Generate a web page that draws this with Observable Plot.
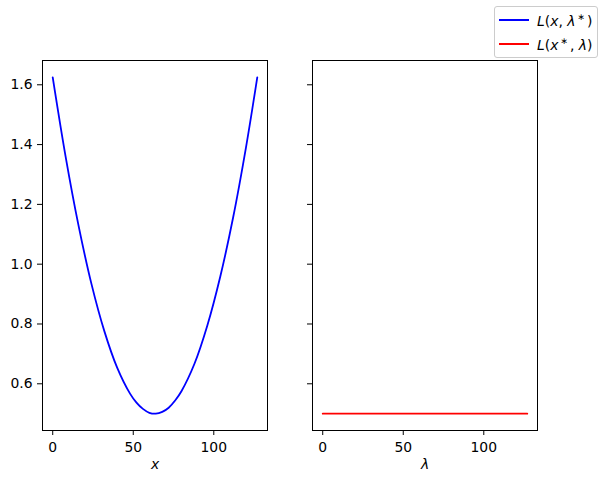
<!DOCTYPE html>
<html>
<head>
<meta charset="utf-8">
<script src="https://cdn.jsdelivr.net/npm/d3@7"></script>
<script src="https://cdn.jsdelivr.net/npm/@observablehq/plot@0.6"></script>
<style>
  html, body { margin: 0; padding: 0; background: #fff; }
  #fig { position: relative; width: 604px; height: 484px; font-family: "DejaVu Sans", sans-serif; }
  #fig svg { position: absolute; top: 0; overflow: visible; }
  #fig svg text { fill: #000; }
  #legend {
    position: absolute; left: 494px; top: 6px; width: 102px; height: 50px;
    border: 1px solid #cccccc; border-radius: 3px; background: #fff;
    font-family: "DejaVu Sans", sans-serif; font-size: 13.9px;
  }
  .lrow { position: absolute; left: 4px; height: 20px; display: flex; align-items: center; white-space: nowrap; }
  .lline { width: 30px; height: 0; border-top: 2px solid; margin-right: 8px; }
  .m { font-style: italic; }
  sup { font-size: 9px; margin: 0 2px; }
</style>
</head>
<body>
<div id="fig">
  <div id="legend">
    <div class="lrow" style="top:3px"><span class="lline" style="border-color:blue"></span><span><span class="m">L</span>(<span class="m">x</span>, <span class="m">λ</span><sup>∗</sup>)</span></div>
    <div class="lrow" style="top:27px"><span class="lline" style="border-color:red"></span><span><span class="m">L</span>(<span class="m">x</span><sup>∗</sup>, <span class="m">λ</span>)</span></div>
  </div>
</div>
<script>
// Values
const xVals = [0, 8, 16, 24, 32, 40, 48, 52, 56, 60, 64, 68, 72, 76, 80, 88, 96, 104, 112, 120, 127];
const lossX = [1.625, 1.36, 1.13, 0.935, 0.777, 0.654, 0.567, 0.537, 0.516, 0.503, 0.500, 0.506, 0.520, 0.544, 0.576, 0.667, 0.795, 0.958, 1.156, 1.391, 1.625];
const lambdaVals = [0, 127];
const lossLambda = [0.5, 0.5];
const yTicks = [0.6, 0.8, 1.0, 1.2, 1.4, 1.6];
const xTicks = [0, 50, 100];

const xDomain = [-6.35, 133.35];
const yDomain = [0.44375, 1.68125];

const leftData = xVals.map((x, i) => ({x, y: lossX[i]}));
const rightData = lambdaVals.map((x, i) => ({x, y: lossLambda[i]}));

function panel(data, color, label, showY) {
  return Plot.plot({
    width: 280, height: 484,
    marginLeft: 42, marginRight: 13, marginTop: 60, marginBottom: 54,
    style: {fontFamily: "DejaVu Sans, sans-serif", fontSize: "13.9px", background: "transparent", overflow: "visible"},
    x: {domain: xDomain},
    y: {domain: yDomain},
    marks: [
      Plot.axisX({ticks: xTicks, tickSize: 5, tickPadding: 7, tickFormat: d => d, label: null, stroke: "#000"}),
      Plot.axisY({ticks: yTicks, tickSize: 5, tickPadding: 5, tickFormat: showY ? d3.format(".1f") : () => "", label: null, stroke: "#000"}),
      Plot.line(data, {x: "x", y: "y", stroke: color, strokeWidth: 1.8, curve: "catmull-rom"}),
      Plot.frame({stroke: "#000", strokeWidth: 1}),
      Plot.text([label], {frameAnchor: "bottom", dy: 38, text: d => d, fontSize: 13.9, fontStyle: "italic", fill: "#000"})
    ]
  });
}

const fig = document.getElementById("fig");
const a = panel(leftData, "blue", "x", true);
a.style.left = "0px";
const b = panel(rightData, "red", "λ", false);
b.style.left = "270px";
fig.insertBefore(a, fig.firstChild);
fig.insertBefore(b, fig.firstChild);
</script>
</body>
</html>
